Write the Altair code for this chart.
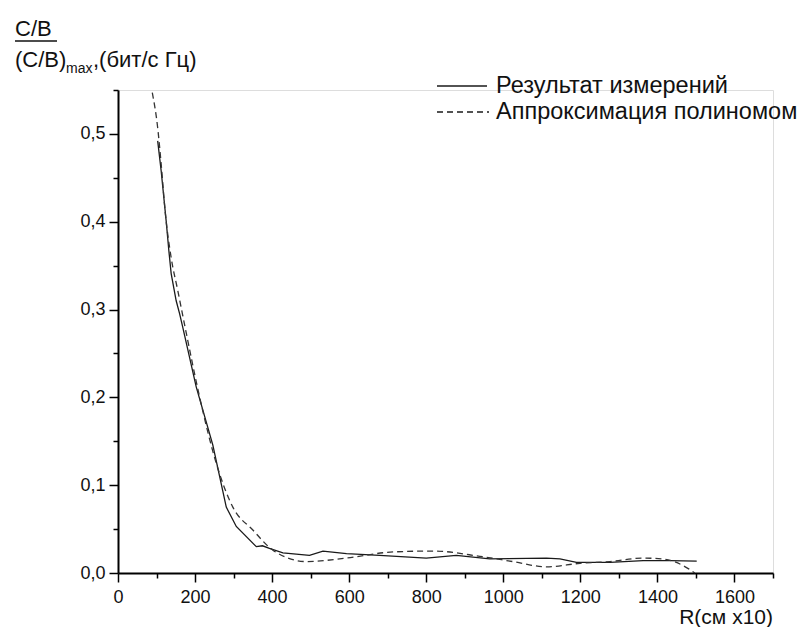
import altair as alt
import pandas as pd

# measured (solid)
meas_r = [103, 112, 125, 132, 138, 151, 160, 168, 203, 246, 281, 307, 359, 375, 393, 428, 497, 532,
          593, 679, 800, 878, 965, 1112, 1147, 1190, 1277, 1363, 1432, 1502]
meas_v = [0.492, 0.458, 0.401, 0.367, 0.341, 0.310, 0.295, 0.280, 0.212, 0.146, 0.075, 0.053, 0.030,
          0.031, 0.028, 0.023, 0.020, 0.025, 0.022, 0.020, 0.017, 0.020, 0.016, 0.017, 0.016, 0.012,
          0.012, 0.014, 0.014, 0.0136]
# polynomial fit (dashed)
fit_r = [89, 103, 112, 123, 138, 155, 175, 212, 255, 298, 350, 402, 489, 593, 714, 818, 939, 1025,
         1112, 1199, 1277, 1363, 1414, 1480, 1497]
fit_v = [0.547, 0.507, 0.466, 0.409, 0.359, 0.322, 0.278, 0.200, 0.125, 0.075, 0.049, 0.026, 0.013,
         0.017, 0.024, 0.025, 0.019, 0.013, 0.007, 0.011, 0.013, 0.017, 0.016, 0.005, 0.0]

x_ticks = list(range(0, 1800, 100))
y_ticks = [round(i * 0.05, 2) for i in range(12)]

legend_labels = ["Результат измерений", "Аппроксимация полиномом"]
y_title_top = "C/B"
y_title_a = "(C/B)"
y_title_sub = "max"
y_title_b = ",(бит/с Гц)"
x_title = "R(см х10)"

meas = pd.DataFrame({"R": meas_r, "V": meas_v})
fit = pd.DataFrame({"R": fit_r, "V": fit_v})
one = pd.DataFrame({"a": [0]})

FONT = "Liberation Sans"
INK = "#111111"

xscale = alt.Scale(domain=[0, 1700], nice=False, zero=False)
yscale = alt.Scale(domain=[0, 0.55], nice=False)

xaxis = alt.Axis(
    values=x_ticks, title=None, grid=False,
    domainColor="black", domainWidth=2, tickColor="black", tickWidth=1.5,
    tickSize={"condition": {"test": "datum.value % 200 === 0", "value": 9}, "value": 5},
    labelExpr="datum.value % 200 === 0 ? format(datum.value, 'd') : ''",
    labelFont=FONT, labelFontSize=18, labelColor=INK, labelPadding=6,
    labelFlush=False, labelOverlap=False,
)
yaxis = alt.Axis(
    values=y_ticks, title=None, grid=False,
    domainColor="black", domainWidth=2, tickColor="black", tickWidth=1.5,
    tickSize={"condition": {"test": "round(datum.value*100) % 10 === 0", "value": 9}, "value": 5},
    labelExpr="round(datum.value*100) % 10 === 0 ? replace(format(datum.value, '.1f'), '.', ',') : ''",
    labelFont=FONT, labelFontSize=18, labelColor=INK, labelPadding=4,
    labelFlush=False, labelOverlap=False,
)

solid = alt.Chart(meas).mark_line(color="#1a1a1a", strokeWidth=1.3).encode(
    x=alt.X("R:Q", scale=xscale, axis=xaxis),
    y=alt.Y("V:Q", scale=yscale, axis=yaxis),
)
dashed = alt.Chart(fit).mark_line(color="#333333", strokeWidth=1.3, strokeDash=[6, 4],
                                  interpolate="monotone").encode(
    x=alt.X("R:Q", scale=xscale, axis=xaxis),
    y=alt.Y("V:Q", scale=yscale, axis=yaxis),
)


def txt(s, x, y, size, align="left", baseline="alphabetic"):
    return alt.Chart(one).mark_text(text=s, font=FONT, fontSize=size, color=INK,
                                    align=align, baseline=baseline).encode(
        x=alt.value(x), y=alt.value(y))


def hline(x1, x2, y, dash=None):
    kw = dict(color="#1a1a1a", strokeWidth=1.3)
    if dash:
        kw["strokeDash"] = dash
    return alt.Chart(one).mark_rule(**kw).encode(x=alt.value(x1), x2=alt.value(x2), y=alt.value(y))


layers = [
    solid, dashed,
    # legend
    hline(319, 369, -4),
    txt(legend_labels[0], 378, -4, 23.5, baseline="middle"),
    hline(319, 371, 22, dash=[6, 4]),
    txt(legend_labels[1], 378, 22, 23.5, baseline="middle"),
    # y title
    txt(y_title_top, -103, -54, 22),
    alt.Chart(one).mark_rule(color=INK, strokeWidth=1.5).encode(
        x=alt.value(-103), x2=alt.value(-61), y=alt.value(-49)),
    txt(y_title_a, -103, -23, 22),
    txt(y_title_sub, -52, -17, 14),
    txt(y_title_b, -25, -23, 22),
    # x title
    txt(x_title, 655, 534, 21, align="right"),
]

chart = alt.layer(*layers).properties(
    width=655, height=483,
    padding={"left": 110, "top": 82, "right": 27, "bottom": 54},
    autosize=alt.AutoSizeParams(type="none"),
).configure_view(stroke=None).configure(background="white")

chart.save("out.html", embed_options={"renderer": "svg", "actions": False})
